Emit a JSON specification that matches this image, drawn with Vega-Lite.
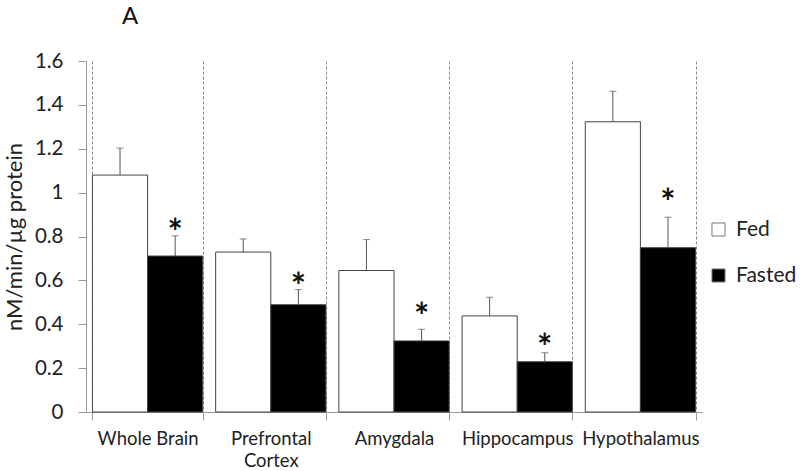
{
  "$schema": "https://vega.github.io/schema/vega-lite/v6.json",
  "width": 616,
  "height": 351,
  "autosize": "none",
  "padding": {"left": 86, "top": 61, "right": 98, "bottom": 59},
  "title": {"text": "A", "anchor": "start", "frame": "group", "dx": 36, "offset": 22, "fontSize": 24, "font": "Lato", "fontWeight": "normal", "color": "#111"},
  "config": {"view": {"stroke": null}, "font": "Lato"},
  "data": {"values": [
    {"region": "Whole Brain", "condition": "Fed", "value": 1.080, "upper": 1.203},
    {"region": "Whole Brain", "condition": "Fasted", "value": 0.711, "upper": 0.803, "star": 0.856},
    {"region": "Prefrontal Cortex", "condition": "Fed", "value": 0.729, "upper": 0.789},
    {"region": "Prefrontal Cortex", "condition": "Fasted", "value": 0.489, "upper": 0.558, "star": 0.610},
    {"region": "Amygdala", "condition": "Fed", "value": 0.645, "upper": 0.786},
    {"region": "Amygdala", "condition": "Fasted", "value": 0.324, "upper": 0.377, "star": 0.473},
    {"region": "Hippocampus", "condition": "Fed", "value": 0.438, "upper": 0.523},
    {"region": "Hippocampus", "condition": "Fasted", "value": 0.229, "upper": 0.270, "star": 0.332},
    {"region": "Hypothalamus", "condition": "Fed", "value": 1.323, "upper": 1.462},
    {"region": "Hypothalamus", "condition": "Fasted", "value": 0.749, "upper": 0.888, "star": 0.994}
  ]},
  "encoding": {
    "x": {
      "field": "region", "type": "nominal", "sort": null,
      "scale": {"paddingInner": 0.105, "paddingOuter": 0.0525},
      "axis": {
        "title": null, "labelAngle": 0, "labelFontSize": 18.5, "labelColor": "#222",
        "labelPadding": 9, "labelLineHeight": 22, "tickBand": "extent", "tickSize": 8, "tickColor": "#999",
        "domainColor": "#999", "grid": true, "gridDash": [3, 2], "gridColor": "#888",
        "labelExpr": "datum.label == 'Prefrontal Cortex' ? ['Prefrontal', 'Cortex'] : datum.label"
      }
    },
    "xOffset": {"field": "condition", "sort": ["Fed", "Fasted"], "scale": {"paddingInner": 0, "paddingOuter": 0}}
  },
  "layer": [
    {
      "mark": {"type": "bar", "stroke": "#444", "strokeWidth": 1},
      "encoding": {
        "y": {
          "field": "value", "type": "quantitative",
          "scale": {"domain": [0, 1.6], "nice": false},
          "axis": {
            "title": "nM/min/µg protein", "titleFontSize": 22, "titleFontWeight": "normal", "titleColor": "#222",
            "titlePadding": 8, "values": [0, 0.2, 0.4, 0.6, 0.8, 1, 1.2, 1.4, 1.6], "format": ".1~f",
            "labelFontSize": 20.5, "labelColor": "#222", "labelPadding": 15, "tickSize": 8,
            "tickColor": "#999", "domainColor": "#999", "grid": false
          }
        },
        "color": {
          "field": "condition", "type": "nominal",
          "scale": {"domain": ["Fed", "Fasted"], "range": ["white", "black"]},
          "legend": {
            "title": null, "orient": "none", "legendX": 622, "legendY": 158,
            "symbolType": "square", "symbolSize": 170, "symbolStrokeColor": "#777", "symbolStrokeWidth": 1,
            "labelFontSize": 21, "labelColor": "#222", "labelOffset": 7, "rowPadding": 24
          }
        }
      }
    },
    {
      "mark": {"type": "rule", "color": "#555", "strokeWidth": 1},
      "encoding": {"y": {"field": "value", "type": "quantitative"}, "y2": {"field": "upper"}}
    },
    {
      "mark": {"type": "tick", "color": "#555", "size": 7, "thickness": 1},
      "encoding": {"y": {"field": "upper", "type": "quantitative"}}
    },
    {
      "transform": [{"filter": "isValid(datum.star)"}],
      "mark": {"type": "text", "text": "*", "fontSize": 36, "fontWeight": "bold", "baseline": "middle", "dy": 10, "color": "#111"},
      "encoding": {"y": {"field": "star", "type": "quantitative"}}
    }
  ]
}
